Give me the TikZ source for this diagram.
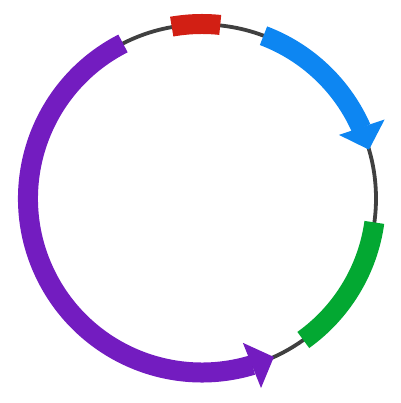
\documentclass[tikz,border=0pt]{standalone}
\definecolor{ringc}{HTML}{404040}
\definecolor{redc}{HTML}{D21F14}
\definecolor{bluec}{HTML}{0D86F2}
\definecolor{greenc}{HTML}{03A832}
\definecolor{purplec}{HTML}{731CC0}
\tikzset{band/.style={line width=20pt}}
\begin{document}
\begin{tikzpicture}[x=1pt,y=1pt]
\useasboundingbox (-202,-204.5) rectangle (198,198.5);
\draw[ringc, line width=3.8pt] (0,0) circle (174);
% red block
\draw[redc, band] (84:174.5) arc (84:100:174.5);
% blue arrow
\draw[bluec, band] (69.3:174) arc (69.3:23.8:174);
\fill[bluec] (24.9:151) -- (23.4:199) -- (16.3:174) -- cycle;
% green block
\draw[greenc, band] (-7.9:174) arc (-7.9:-54.4:174);
% purple arrow
\draw[purplec, band] (117:174) arc (117:286.8:174);
\fill[purplec] (285.8:150) -- (287.3:198.5) -- (294.4:174) -- cycle;
\end{tikzpicture}
\end{document}
